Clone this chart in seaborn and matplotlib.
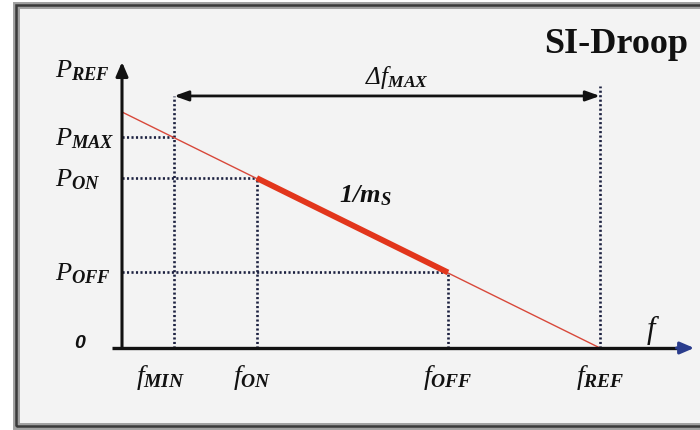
import matplotlib
matplotlib.use("Agg")
import matplotlib.pyplot as plt
from matplotlib.patches import Rectangle
import seaborn as sns
import pandas as pd

# Droop characteristic: straight line from (0, P0) down to (f_REF, 0)
droop_f = [0.0, 1.0]
droop_p = [1.0, 0.0]

# Marked frequencies and their labels
f_names = ["MIN", "ON", "OFF", "REF"]
f_values = [0.109, 0.282, 0.682, 1.0]

# Marked powers (operating points on the droop line)
p_names = ["MAX", "ON", "OFF"]
p_values = [0.895, 0.72, 0.32]

sns.set_theme(style="white")
plt.rcParams["font.family"] = ["Liberation Serif", "DejaVu Serif"]
plt.rcParams["mathtext.fontset"] = "custom"
plt.rcParams["mathtext.rm"] = "Liberation Serif"
plt.rcParams["mathtext.it"] = "Liberation Serif:italic"
plt.rcParams["mathtext.bf"] = "Liberation Serif:bold:italic"

fig = plt.figure(figsize=(7.0, 4.3), dpi=100)
fig.patch.set_facecolor("white")

# panel background and frame
fig.patches.append(Rectangle((16 / 700, 4 / 430), 700 / 700, 421 / 430,
                             transform=fig.transFigure, facecolor="#f3f3f3",
                             edgecolor="#a0a0a0", lw=5, zorder=0))
fig.patches.append(Rectangle((16 / 700, 4 / 430), 700 / 700, 421 / 430,
                             transform=fig.transFigure, facecolor="none",
                             edgecolor="#3a3a3a", lw=1.8, zorder=1))

ax = fig.add_axes([0, 0, 1, 1])
ax.set_zorder(3)
ax.set_axis_off()
ax.patch.set_alpha(0)
ax.set_xlim(-122 / 478, (700 - 122) / 478)
ax.set_ylim(-82 / 236, 348 / 236)

dot = dict(color="#1c2140", lw=1.9, linestyle=(0, (0.8, 0.9)), zorder=2)

# dotted guides from the axes to the operating points
for fv, pv in zip(f_values[:3], p_values):
    ax.plot([0, fv], [pv, pv], **dot)
ax.plot([f_values[0], f_values[0]], [0, 1.068], **dot)
ax.plot([f_values[1], f_values[1]], [0, p_values[1]], **dot)
ax.plot([f_values[2], f_values[2]], [0, p_values[2]], **dot)
ax.plot([f_values[3], f_values[3]], [0, 1.11], **dot)

# droop line and the active segment
df_line = pd.DataFrame({"f": droop_f, "P": droop_p})
sns.lineplot(data=df_line, x="f", y="P", ax=ax, color="#d8483a", lw=1.0, zorder=3)
df_seg = pd.DataFrame({"f": f_values[1:3], "P": p_values[1:3]})
sns.lineplot(data=df_seg, x="f", y="P", ax=ax, color="#e2361c", lw=4.2,
             zorder=4, solid_capstyle="butt")

# coordinate axes
ax.annotate("", xy=(0, 1.212), xytext=(0, 0),
            arrowprops=dict(arrowstyle="-|>,head_length=0.7,head_width=0.3",
                            color="#111111", lw=2.2, shrinkA=0, shrinkB=0), zorder=5)
ax.plot([-0.02, 1.17], [0, 0], color="#111111", lw=2.4, zorder=5,
        solid_capstyle="butt")
ax.annotate("", xy=(1.197, 0), xytext=(1.16, 0),
            arrowprops=dict(arrowstyle="-|>,head_length=0.7,head_width=0.3",
                            color="#2a3c8c", lw=2.2, shrinkA=0, shrinkB=0), zorder=5)

# delta f span
ax.annotate("", xy=(f_values[0], 1.068), xytext=(f_values[3], 1.068),
            arrowprops=dict(arrowstyle="<|-|>,head_length=0.7,head_width=0.25",
                            color="#111111", lw=2.0, shrinkA=0, shrinkB=0), zorder=5)
ax.text(0.575, 1.148, r"Δ$f_{\mathbf{MAX}}$", ha="center", va="center",
        fontsize=18, fontstyle="italic", color="#111111")

# power labels
x_lab = (55 - 122) / 478
ax.text(x_lab, 1.148, r"$P_{\mathbf{REF}}$", ha="left", va="baseline",
        fontsize=19, color="#111111")
for name, pv in zip(p_names, p_values):
    ax.annotate(r"$P_{\mathbf{%s}}$" % name, xy=(x_lab, pv), xytext=(0, -6),
                textcoords="offset points", ha="left", va="baseline",
                fontsize=19, color="#111111")
ax.text(-0.088, 0.017, "0", ha="center", va="center", fontsize=14,
        fontfamily="Liberation Sans", fontweight="bold", fontstyle="italic",
        color="#111111")

# frequency labels
f_shift = [-10, -3, 0, 0]
for name, fv, sh in zip(f_names, f_values, f_shift):
    ax.annotate(r"$f_{\mathbf{%s}}$" % name, xy=(fv, 0), xytext=(sh, -21),
                textcoords="offset points", ha="center", va="center",
                fontsize=20, color="#111111")
ax.text(1.111, 0.076, r"$f$", ha="center", va="center", fontsize=22,
        color="#111111")

ax.text(0.51, 0.644, r"$\mathbf{1/m_S}$", ha="center", va="center",
        fontsize=19, color="#111111")

ax.text(1.184, 1.25, "SI-Droop", ha="right", va="baseline", fontsize=26,
        fontweight="bold", color="#111111")

fig.savefig("out.png", dpi=100, facecolor=fig.get_facecolor())
